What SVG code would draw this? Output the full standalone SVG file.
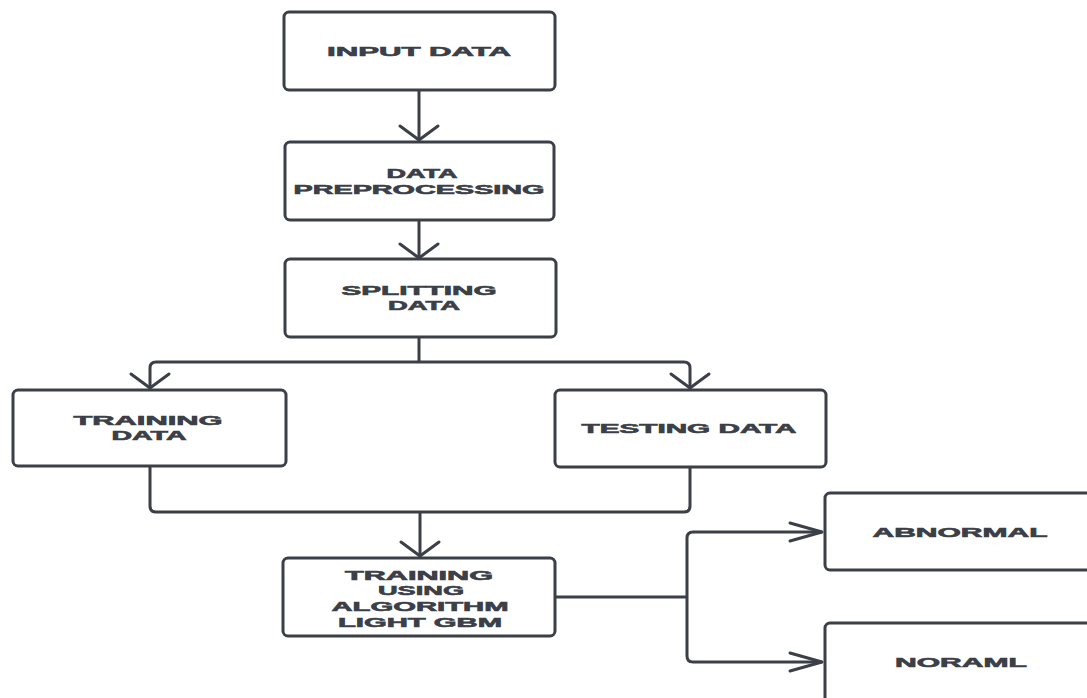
<svg xmlns="http://www.w3.org/2000/svg" width="1087" height="698" viewBox="0 0 1087 698">
<style>
.box{fill:#fff;stroke:#3b3f47;stroke-width:3}
.t{font-family:"Liberation Sans",Arial,sans-serif;font-weight:bold;font-size:13px;fill:#3b3f47;stroke:#3b3f47;stroke-width:0.6;text-anchor:middle}
.c{fill:none;stroke:#3b3f47;stroke-width:3;stroke-linejoin:round}
.ah{fill:none;stroke:#3b3f47;stroke-width:3;stroke-linejoin:round;stroke-linecap:round}
</style>
<defs>
<marker id="av" markerUnits="userSpaceOnUse" orient="auto" refX="0" refY="0" markerWidth="40" markerHeight="40" overflow="visible"><path class="ah" d="M-14,-19 L0,0 L-14,19"/></marker>
<marker id="ah" markerUnits="userSpaceOnUse" orient="auto" refX="0" refY="0" markerWidth="40" markerHeight="40" overflow="visible"><path class="ah" d="M-32,-9 L0,0 L-32,9"/></marker>
</defs>
<rect width="1087" height="698" fill="#fff"/>
<g id="connectors">
<path class="c" d="M419,90 V140" marker-end="url(#av)"/>
<path class="c" d="M419,220 V258" marker-end="url(#av)"/>
<path class="c" d="M419,337 V362"/>
<path class="c" d="M419,362 H156 Q150,362 150,368 V388" marker-end="url(#av)"/>
<path class="c" d="M419,362 H684 Q690,362 690,368 V388" marker-end="url(#av)"/>
<path class="c" d="M150,466 V506 Q150,512 156,512 H684 Q690,512 690,506 V467"/>
<path class="c" d="M420,512 V556" marker-end="url(#av)"/>
<path class="c" d="M555,597 H687"/>
<path class="c" d="M687,597 V538 Q687,532 693,532 H822" marker-end="url(#ah)"/>
<path class="c" d="M687,597 V656 Q687,662 693,662 H822" marker-end="url(#ah)"/>
</g>
<g id="input-data">
<rect class="box" x="284" y="12" width="271" height="78" rx="5"/>
<text class="t" x="419" y="56" textLength="184" lengthAdjust="spacingAndGlyphs">INPUT DATA</text>
</g>
<g id="data-preprocessing">
<rect class="box" x="285" y="142" width="269" height="78" rx="5"/>
<text class="t" x="422" y="178" textLength="71" lengthAdjust="spacingAndGlyphs">DATA</text>
<text class="t" x="419" y="194" textLength="251" lengthAdjust="spacingAndGlyphs">PREPROCESSING</text>
</g>
<g id="splitting-data">
<rect class="box" x="285" y="259" width="271" height="78" rx="5"/>
<text class="t" x="419" y="295" textLength="155" lengthAdjust="spacingAndGlyphs">SPLITTING</text>
<text class="t" x="424" y="310" textLength="72" lengthAdjust="spacingAndGlyphs">DATA</text>
</g>
<g id="training-data">
<rect class="box" x="13" y="390" width="273" height="76" rx="5"/>
<text class="t" x="148" y="425" textLength="149" lengthAdjust="spacingAndGlyphs">TRAINING</text>
<text class="t" x="149" y="440" textLength="75" lengthAdjust="spacingAndGlyphs">DATA</text>
</g>
<g id="testing-data">
<rect class="box" x="555" y="390" width="271" height="77" rx="5"/>
<text class="t" x="689" y="433" textLength="215" lengthAdjust="spacingAndGlyphs">TESTING DATA</text>
</g>
<g id="training-lgbm">
<rect class="box" x="283" y="558" width="272" height="78" rx="5"/>
<text class="t" x="419" y="580" textLength="148" lengthAdjust="spacingAndGlyphs">TRAINING</text>
<text class="t" x="421" y="595" textLength="86" lengthAdjust="spacingAndGlyphs">USING</text>
<text class="t" x="420" y="611" textLength="177" lengthAdjust="spacingAndGlyphs">ALGORITHM</text>
<text class="t" x="420" y="627" textLength="164" lengthAdjust="spacingAndGlyphs">LIGHT GBM</text>
</g>
<g id="abnormal">
<rect class="box" x="825" y="493" width="280" height="77" rx="5"/>
<text class="t" x="960" y="537" textLength="175" lengthAdjust="spacingAndGlyphs">ABNORMAL</text>
</g>
<g id="noraml">
<rect class="box" x="825" y="623" width="280" height="100" rx="5"/>
<text class="t" x="961" y="667" textLength="132" lengthAdjust="spacingAndGlyphs">NORAML</text>
</g>
</svg>
